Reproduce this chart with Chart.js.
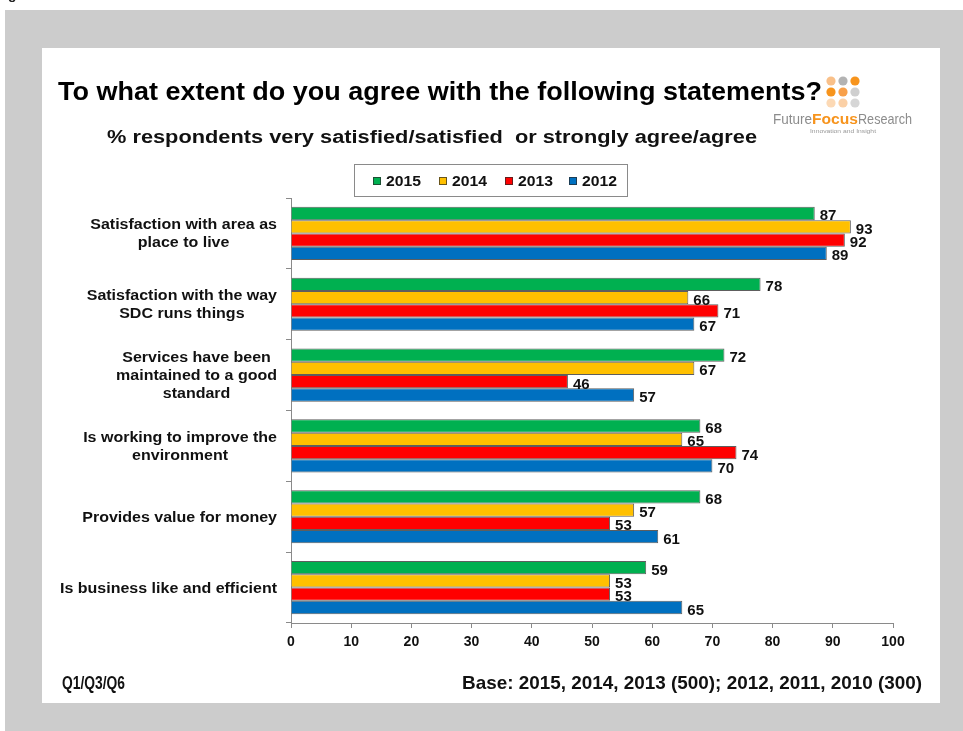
<!DOCTYPE html>
<html>
<head>
<meta charset="utf-8">
<script src="https://cdn.jsdelivr.net/npm/chart.js@4.4.1/dist/chart.umd.min.js"></script>
<style>
  html, body { margin: 0; padding: 0; background: #fff; }
  #survey { display: block; }
</style>
</head>
<body>
<canvas id="survey" width="963" height="731"></canvas>
<script>
var statements = [
    ['Satisfaction with area as', 'place to live'],
    ['Satisfaction with the way', 'SDC runs things'],
    ['Services have been', 'maintained to a good', 'standard'],
    ['Is working to improve the', 'environment'],
    ['Provides value for money'],
    ['Is business like and efficient']
];
var years = ['2015', '2014', '2013', '2012'];
var results2015 = [87, 78, 72, 68, 68, 59];
var results2014 = [93, 66, 67, 65, 57, 53];
var results2013 = [92, 71, 46, 74, 53, 53];
var results2012 = [89, 67, 57, 70, 61, 65];
var axisMin = 0;
var axisMax = 100;
var axisStep = 10;
var yearColours = ['#00B050', '#FFC000', '#FF0000', '#0070C0'];

var FONT = '"Liberation Sans", Arial, sans-serif';

// draws text with an optional horizontal scale (sx) or a target width
function putText(ctx, str, x, y, font, colour, align, width, sx) {
    ctx.save();
    ctx.font = font;
    ctx.fillStyle = colour;
    ctx.textBaseline = 'alphabetic';
    ctx.textAlign = 'left';
    var w = ctx.measureText(str).width;
    var k = width ? width / w : (sx || 1);
    var drawn = w * k;
    var left = align === 'center' ? x - drawn / 2 : align === 'right' ? x - drawn : x;
    ctx.translate(left, y);
    ctx.scale(k, 1);
    ctx.fillText(str, 0, 0);
    ctx.restore();
    return drawn;
}

var slideBackground = {
    id: 'slideBackground',
    beforeDraw: function (chart) {
        var ctx = chart.ctx;
        ctx.save();
        ctx.fillStyle = '#ffffff';
        ctx.fillRect(0, 0, chart.width, chart.height);
        putText(ctx, 'g', 8, -1, 'bold 14px ' + FONT, '#222');
        ctx.fillStyle = '#cccccc';
        ctx.fillRect(5, 10, chart.width - 5, chart.height - 10);
        ctx.fillStyle = '#ffffff';
        ctx.fillRect(42, 48, 898, 655);
        ctx.restore();
    }
};

var slideText = {
    id: 'slideText',
    afterDraw: function (chart) {
        var ctx = chart.ctx;
        var yScale = chart.scales.y;

        // headings
        putText(ctx, 'To what extent do you agree with the following statements?', 58, 100,
            'bold 25px ' + FONT, '#000', 'left', 764);
        putText(ctx, '% respondents very satisfied/satisfied  or strongly agree/agree', 107, 143,
            'bold 18px ' + FONT, '#111', 'left', 650);

        // logo
        var dots = [
            ['#f9c089', '#b3b3b3', '#f7941d'],
            ['#f7941d', '#f8a04a', '#cfcfcf'],
            ['#fcd9b5', '#fbd0a6', '#d6d6d6']
        ];
        ctx.save();
        for (var r = 0; r < 3; r++) {
            for (var c = 0; c < 3; c++) {
                ctx.fillStyle = dots[r][c];
                ctx.beginPath();
                ctx.arc(831 + c * 12, 81 + r * 11, 4.6, 0, Math.PI * 2);
                ctx.fill();
            }
        }
        ctx.restore();
        var lx = 773;
        lx += putText(ctx, 'Future', lx, 124, '15px ' + FONT, '#8c8c8c', 'left', 39);
        lx += putText(ctx, 'Focus', lx, 124, 'bold 15px ' + FONT, '#f7941d', 'left', 46);
        putText(ctx, 'Research', lx, 124, '15px ' + FONT, '#8c8c8c', 'left', 54);
        putText(ctx, 'Innovation and Insight', 843, 133, '5px ' + FONT, '#999', 'center', 66);

        // legend box
        ctx.save();
        ctx.strokeStyle = '#8a8a8a';
        ctx.lineWidth = 1;
        ctx.strokeRect(354.5, 164.5, 273, 32);
        var keyX = [373, 439, 505, 569];
        chart.data.datasets.forEach(function (ds, i) {
            ctx.fillStyle = ds.backgroundColor;
            ctx.fillRect(keyX[i], 177, 8, 8);
            ctx.strokeStyle = 'rgba(40,40,40,0.7)';
            ctx.strokeRect(keyX[i] + 0.5, 177.5, 7, 7);
            putText(ctx, ds.label, keyX[i] + 13, 186, 'bold 15px ' + FONT, '#111', 'left', 35);
        });
        ctx.restore();

        // category labels, each block right-aligned and its lines centred
        var labelFont = 'bold 14px ' + FONT;
        ctx.save();
        ctx.font = labelFont;
        var widest = 0;
        chart.data.labels.forEach(function (lines) {
            lines.forEach(function (l) { widest = Math.max(widest, ctx.measureText(l).width); });
        });
        var labelSx = 217 / widest;
        ctx.restore();
        chart.data.labels.forEach(function (lines, i) {
            var cy = yScale.getPixelForValue(i);
            ctx.save();
            ctx.font = labelFont;
            var maxW = 0;
            lines.forEach(function (l) { maxW = Math.max(maxW, ctx.measureText(l).width * labelSx); });
            ctx.restore();
            var cx = 277 - maxW / 2;
            lines.forEach(function (l, k) {
                var ly = cy + (k - (lines.length - 1) / 2) * 18 + 5;
                putText(ctx, l, cx, ly, labelFont, '#111', 'center', null, labelSx);
            });
        });

        // value labels at the end of each bar
        chart.data.datasets.forEach(function (ds, d) {
            chart.getDatasetMeta(d).data.forEach(function (bar, i) {
                putText(ctx, String(ds.data[i]), bar.x + 5, bar.y + 7, 'bold 15px ' + FONT, '#111', 'left');
            });
        });

        // footer
        putText(ctx, 'Q1/Q3/Q6', 62, 689, 'bold 18px ' + FONT, '#111', 'left', 63);
        putText(ctx, 'Base: 2015, 2014, 2013 (500); 2012, 2011, 2010 (300)', 922, 689,
            'bold 19px ' + FONT, '#111', 'right', 460);
    }
};

var ctx = document.getElementById('survey').getContext('2d');

var surveyChart = new Chart(ctx, {
    type: 'bar',
    data: {
        labels: statements,
        datasets: [
            { label: years[0], data: results2015, backgroundColor: yearColours[0] },
            { label: years[1], data: results2014, backgroundColor: yearColours[1] },
            { label: years[2], data: results2013, backgroundColor: yearColours[2] },
            { label: years[3], data: results2012, backgroundColor: yearColours[3] }
        ]
    },
    options: {
        indexAxis: 'y',
        responsive: false,
        animation: false,
        devicePixelRatio: 1,
        layout: {
            padding: { left: 286, right: 70, top: 198, bottom: 78 }
        },
        datasets: {
            bar: {
                categoryPercentage: 0.75,
                barPercentage: 1.0,
                borderWidth: 1,
                borderColor: 'rgba(40,40,40,0.75)'
            }
        },
        scales: {
            x: {
                min: axisMin,
                max: axisMax,
                afterFit: function (scale) { scale.height = 30; },
                ticks: {
                    stepSize: axisStep,
                    padding: 6,
                    color: '#111',
                    font: { family: FONT, size: 14, weight: 'bold' }
                },
                grid: {
                    drawOnChartArea: false,
                    drawTicks: true,
                    tickLength: 5,
                    color: '#8a8a8a'
                },
                border: { color: '#8a8a8a' }
            },
            y: {
                afterFit: function (scale) { scale.width = 5; },
                ticks: { display: false },
                grid: {
                    offset: true,
                    drawOnChartArea: false,
                    drawTicks: true,
                    tickLength: 5,
                    color: '#8a8a8a'
                },
                border: { color: '#8a8a8a' }
            }
        },
        plugins: {
            legend: { display: false },
            title: { display: false },
            tooltip: { enabled: false }
        }
    },
    plugins: [slideBackground, slideText]
});
</script>
</body>
</html>
